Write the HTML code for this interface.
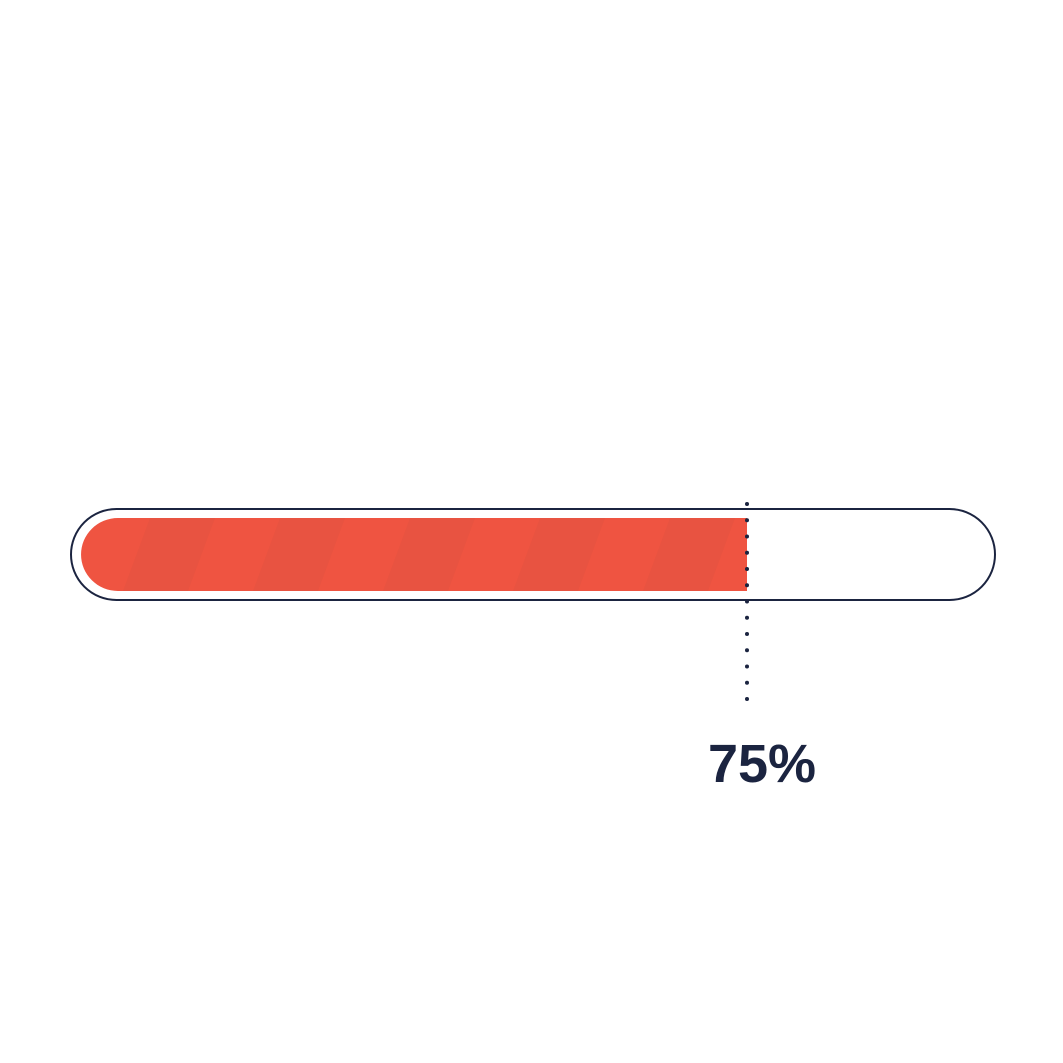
<!DOCTYPE html>
<html><head><meta charset="utf-8"><style>
html,body{margin:0;padding:0;background:#fff;}
svg{display:block;}
</style></head><body>
<svg id="chart" width="1063" height="1063" viewBox="0 0 1063 1063">
  <defs>
    <clipPath id="fillClip"><path id="clipPath" d=""/></clipPath>
  </defs>
  <rect x="71" y="509" width="924" height="91" rx="45.5" ry="45.5" fill="#fff" stroke="#1b2440" stroke-width="2"/>
  <g id="fillGroup" clip-path="url(#fillClip)"></g>
  <g id="dots"></g>
  <text id="label" x="762" y="782" text-anchor="middle" font-family="Liberation Sans, sans-serif" font-weight="bold" font-size="54" fill="#1b2440"></text>
</svg>
<script>
const values = [0.75];
const labels = ["75%"];

const x0 = 81, fullW = 888, y0 = 518, h = 73, r = 37;
function xScale(v){ return x0 + v * fullW; }
const NS = "http://www.w3.org/2000/svg";
const xe = xScale(values[0]);
document.getElementById('clipPath').setAttribute('d',
  `M${x0+r},${y0} H${xe} V${y0+h} H${x0+r} A${r},${h/2} 0 0 1 ${x0+r},${y0} Z`);
const g = document.getElementById('fillGroup');
const base = document.createElementNS(NS,'rect');
base.setAttribute('x', x0); base.setAttribute('y', y0);
base.setAttribute('width', xe - x0); base.setAttribute('height', h);
base.setAttribute('fill', '#ef5441');


g.appendChild(base);
for (let s = 20; s < xe + 130; s += 130) {
  const p = document.createElementNS(NS,'polygon');
  p.setAttribute('points', `${s},${y0} ${s+65},${y0} ${s+38},${y0+h} ${s-27},${y0+h}`);
  p.setAttribute('fill', '#e85341');
  
  
  g.appendChild(p);
}
const dots = document.getElementById('dots');
for (let i = 0; i < 13; i++) {
  const c = document.createElementNS(NS,'circle');
  c.setAttribute('cx', xe); c.setAttribute('cy', 504 + i * 16.25);
  c.setAttribute('r', 2); c.setAttribute('fill', '#1b2440');
  
  
  dots.appendChild(c);
}
const lab = document.getElementById('label');
lab.textContent = labels[0];
lab.setAttribute('x', xe + 15);
</script>
</body></html>
